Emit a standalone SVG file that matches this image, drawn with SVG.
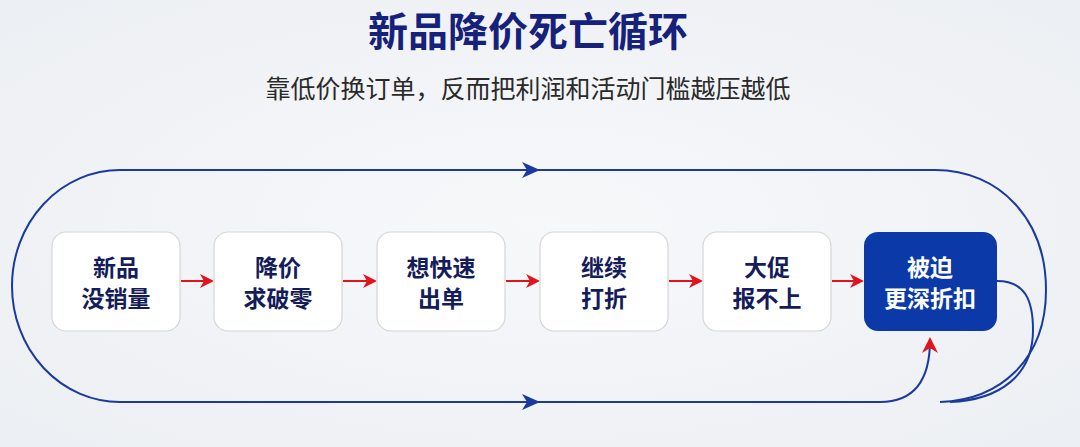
<svg xmlns="http://www.w3.org/2000/svg" width="1080" height="447" viewBox="0 0 1080 447">
<defs>
<style>
.t{font-family:"Noto Sans CJK SC","Noto Sans",sans-serif;font-weight:bold;text-anchor:middle}
.n{fill:#ffffff;stroke:#d6d6d6;stroke-width:1.2}
.nt{font-size:23px;fill:#141c5a}
.red{stroke:#e0141c;stroke-width:2;fill:none}
.blue{stroke:#1a3a9e;stroke-width:2;fill:none}
</style>
<marker id="ra" markerWidth="14" markerHeight="14" refX="12" refY="7" orient="auto" markerUnits="userSpaceOnUse" viewBox="0 0 14 14"><path d="M0,0 L14,7 L0,14 L4,7 Z" fill="#e0141c"/></marker>
<marker id="ra2" markerWidth="16" markerHeight="16" refX="13" refY="8" orient="auto" markerUnits="userSpaceOnUse" viewBox="0 0 16 16"><path d="M0,0 L16,8 L0,16 L5,8 Z" fill="#e0141c"/></marker>
<radialGradient id="bg" cx="50%" cy="50%" r="70%"><stop offset="0" stop-color="#f7f8fa"/><stop offset="1" stop-color="#eceff3"/></radialGradient>
</defs>
<rect width="1080" height="447" fill="url(#bg)"/>
<text class="t" x="528" y="46" font-size="40" fill="#15217a">新品降价死亡循环</text>
<text x="528" y="98" font-size="25" fill="#2a2a2a" text-anchor="middle" font-family="Noto Sans CJK SC,sans-serif">靠低价换订单，反而把利润和活动门槛越压越低</text>
<g id="connectors">
<path class="blue" d="M935,170 H120 A108,116 0 0 0 120,402 H880 C915,402 930,380 930,340" marker-end="url(#ra2)"/>
<path class="blue" d="M935,170 C1000,170 1046,220 1046,290 C1046,360 1000,400 940,402"/>
<path class="blue" d="M997,281 C1025,281 1033,300 1033,330 C1033,375 1000,400 950,402"/>
<path d="M522,162 L540,170 L522,178 L527,170 Z" fill="#1a3a9e"/>
<path d="M522,394 L540,402 L522,410 L527,402 Z" fill="#1a3a9e"/>
<path class="red" d="M181,281 H212" marker-end="url(#ra)"/>
<path class="red" d="M343,281 H375" marker-end="url(#ra)"/>
<path class="red" d="M506,281 H538" marker-end="url(#ra)"/>
<path class="red" d="M669,281 H701" marker-end="url(#ra)"/>
<path class="red" d="M832,281 H862" marker-end="url(#ra)"/>
</g>
<g id="n1"><rect class="n" x="52" y="232" width="128" height="99" rx="14"/><text class="t nt" x="116" y="276">新品</text><text class="t nt" x="116" y="307">没销量</text></g>
<g id="n2"><rect class="n" x="214" y="232" width="128" height="99" rx="14"/><text class="t nt" x="278" y="276">降价</text><text class="t nt" x="278" y="307">求破零</text></g>
<g id="n3"><rect class="n" x="377" y="232" width="128" height="99" rx="14"/><text class="t nt" x="441" y="276">想快速</text><text class="t nt" x="441" y="307">出单</text></g>
<g id="n4"><rect class="n" x="540" y="232" width="128" height="99" rx="14"/><text class="t nt" x="604" y="276">继续</text><text class="t nt" x="604" y="307">打折</text></g>
<g id="n5"><rect class="n" x="703" y="232" width="128" height="99" rx="14"/><text class="t nt" x="767" y="276">大促</text><text class="t nt" x="767" y="307">报不上</text></g>
<g id="n6"><rect x="864" y="232" width="133" height="99" rx="14" fill="#0b3aa8"/><text class="t nt" x="930" y="276" style="fill:#fff">被迫</text><text class="t nt" x="930" y="307" style="fill:#fff">更深折扣</text></g>
</svg>
